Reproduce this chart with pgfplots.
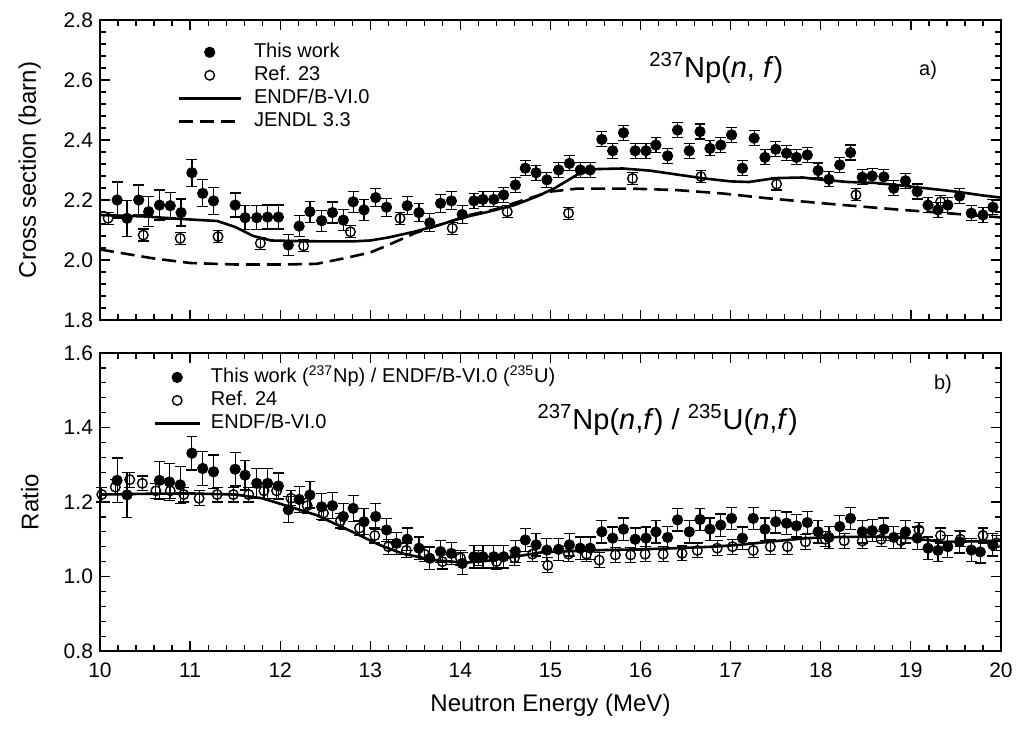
\documentclass[border=0pt]{standalone}
\usepackage{pgfplots}
\pgfplotsset{compat=1.18}
\usepackage{fontspec}
\setmainfont{Liberation Sans}

\pgfplotsset{
  common/.style={
    scale only axis, width=450.5pt,
    xmin=10, xmax=20, xtick={10,...,20}, minor x tick num=4, minor y tick num=4,
    tick align=inside, major tick length=5pt, minor tick length=2.8pt,
    axis line style={line width=0.8pt}, every tick/.style={black, line width=0.6pt},
    tick label style={font=\fontsize{10.5}{12}\selectfont},
    xticklabel style={yshift=-2.5pt},
    /pgf/number format/assume math mode=true,
    yticklabel style={/pgf/number format/fixed, /pgf/number format/fixed zerofill, /pgf/number format/precision=1},
    ylabel style={font=\fontsize{12}{14}\selectfont, at={(axis description cs:-0.078,0.5)}, anchor=center},
    xlabel style={font=\fontsize{12}{14}\selectfont},
    clip=false,
  },
  datamk/.style={only marks, mark=*, mark size=2.6pt, black,
    error bars/.cd, y dir=both, y explicit,
    error bar style={line width=0.6pt, black},
    error mark options={rotate=90, mark size=2.7pt, line width=0.6pt, black}},
  openmk/.style={only marks, mark=o, mark size=2.4pt, black, mark options={line width=0.7pt, fill=white},
    error bars/.cd, y dir=both, y explicit,
    error bar style={line width=0.6pt, black},
    error mark options={rotate=90, mark size=2.7pt, line width=0.6pt, black}},
}

\pgfplotstableread{
E v e
10.19 2.200 0.06
10.30 2.139 0.06
10.43 2.200 0.05
10.54 2.161 0.05
10.66 2.183 0.05
10.78 2.181 0.045
10.90 2.158 0.045
11.02 2.291 0.045
11.14 2.222 0.045
11.26 2.197 0.045
11.50 2.183 0.04
11.61 2.141 0.04
11.74 2.141 0.04
11.86 2.143 0.04
11.98 2.143 0.04
12.09 2.050 0.035
12.21 2.113 0.035
12.33 2.161 0.035
12.46 2.131 0.035
12.58 2.158 0.035
12.70 2.133 0.035
12.81 2.194 0.035
12.93 2.167 0.035
13.06 2.208 0.03
13.18 2.176 0.03
13.41 2.181 0.03
13.54 2.158 0.03
13.66 2.124 0.03
13.78 2.189 0.03
13.90 2.197 0.03
14.02 2.152 0.03
14.15 2.197 0.025
14.25 2.202 0.025
14.37 2.202 0.025
14.48 2.217 0.025
14.61 2.250 0.025
14.72 2.306 0.025
14.84 2.291 0.025
14.96 2.267 0.025
15.09 2.300 0.025
15.21 2.322 0.025
15.33 2.300 0.025
15.44 2.300 0.025
15.57 2.402 0.025
15.69 2.364 0.025
15.81 2.424 0.025
15.94 2.364 0.025
16.06 2.364 0.025
16.17 2.383 0.025
16.30 2.347 0.025
16.41 2.433 0.025
16.54 2.364 0.025
16.66 2.428 0.025
16.77 2.372 0.025
16.89 2.383 0.025
17.01 2.417 0.025
17.13 2.306 0.025
17.26 2.406 0.025
17.38 2.342 0.025
17.50 2.369 0.025
17.62 2.356 0.025
17.73 2.342 0.025
17.85 2.350 0.025
17.97 2.298 0.025
18.09 2.269 0.025
18.21 2.317 0.025
18.33 2.358 0.025
18.46 2.276 0.025
18.57 2.280 0.025
18.70 2.277 0.025
18.81 2.239 0.025
18.94 2.264 0.025
19.07 2.228 0.025
19.19 2.183 0.025
19.30 2.167 0.025
19.41 2.183 0.025
19.54 2.213 0.025
19.67 2.156 0.025
19.80 2.150 0.025
19.91 2.176 0.025
}\topthis

\pgfplotstableread{
E v e
10.09 2.139 0.02
10.48 2.083 0.02
10.89 2.072 0.02
11.31 2.078 0.02
11.78 2.056 0.02
12.26 2.047 0.02
12.78 2.094 0.02
13.33 2.139 0.02
13.91 2.106 0.02
14.52 2.161 0.02
15.20 2.156 0.02
15.91 2.272 0.02
16.67 2.278 0.02
17.51 2.253 0.02
18.39 2.217 0.02
19.33 2.194 0.02
}\topref

\pgfplotstableread{
E v
10.0 2.150
10.5 2.145
11.0 2.135
11.3 2.130
11.5 2.110
11.7 2.080
11.9 2.065
12.2 2.063
12.5 2.062
12.8 2.062
13.0 2.065
13.2 2.075
13.5 2.095
13.8 2.120
14.05 2.143
14.3 2.160
14.6 2.183
14.85 2.212
15.05 2.240
15.3 2.285
15.5 2.303
15.8 2.305
16.1 2.298
16.4 2.285
16.7 2.272
17.0 2.262
17.2 2.260
17.5 2.273
17.8 2.275
18.0 2.268
18.3 2.260
18.6 2.257
18.9 2.248
19.2 2.238
19.5 2.228
19.8 2.215
20.0 2.208
}\topendf

\pgfplotstableread{
E v
10.0 2.035
10.3 2.020
10.6 2.005
11.0 1.990
11.5 1.985
12.0 1.985
12.4 1.987
12.7 2.005
13.0 2.025
13.2 2.050
13.5 2.090
13.8 2.120
14.1 2.150
14.4 2.170
14.7 2.200
15.0 2.228
15.3 2.238
15.9 2.238
16.4 2.233
16.9 2.222
17.4 2.206
17.8 2.195
18.1 2.187
18.5 2.177
18.9 2.167
19.4 2.156
20.0 2.142
}\topjendl

\pgfplotstableread{
E v e
10.19 1.258 0.06
10.30 1.219 0.06
10.66 1.258 0.05
10.77 1.254 0.05
10.89 1.246 0.05
11.02 1.331 0.045
11.14 1.290 0.045
11.26 1.281 0.045
11.50 1.288 0.045
11.61 1.272 0.04
11.74 1.250 0.04
11.86 1.250 0.04
11.98 1.243 0.035
12.09 1.179 0.035
12.21 1.207 0.035
12.33 1.219 0.035
12.46 1.187 0.035
12.58 1.190 0.035
12.70 1.161 0.035
12.81 1.183 0.035
12.93 1.147 0.035
13.06 1.161 0.035
13.18 1.125 0.03
13.29 1.089 0.03
13.41 1.100 0.03
13.54 1.076 0.03
13.66 1.049 0.03
13.78 1.067 0.03
13.90 1.062 0.03
14.02 1.035 0.03
14.15 1.053 0.03
14.25 1.053 0.03
14.37 1.053 0.03
14.48 1.053 0.03
14.61 1.067 0.03
14.72 1.098 0.03
14.84 1.085 0.03
14.96 1.071 0.03
15.09 1.073 0.03
15.21 1.085 0.03
15.33 1.076 0.03
15.44 1.076 0.03
15.57 1.120 0.03
15.69 1.103 0.03
15.81 1.127 0.03
15.94 1.100 0.03
16.06 1.103 0.03
16.17 1.120 0.03
16.30 1.105 0.03
16.41 1.152 0.03
16.54 1.120 0.03
16.66 1.153 0.03
16.77 1.127 0.03
16.89 1.138 0.03
17.01 1.156 0.03
17.13 1.103 0.03
17.25 1.156 0.03
17.38 1.127 0.03
17.50 1.147 0.03
17.62 1.143 0.03
17.73 1.136 0.03
17.85 1.145 0.03
17.97 1.120 0.03
18.09 1.105 0.03
18.21 1.134 0.03
18.33 1.156 0.03
18.46 1.120 0.03
18.57 1.123 0.03
18.70 1.127 0.03
18.81 1.105 0.03
18.94 1.120 0.03
19.07 1.103 0.03
19.19 1.076 0.03
19.30 1.070 0.03
19.41 1.080 0.03
19.54 1.093 0.03
19.67 1.071 0.03
19.77 1.066 0.03
19.91 1.085 0.03
}\botthis

\pgfplotstableread{
E v e
10.02 1.220 0.02
10.17 1.240 0.02
10.33 1.260 0.02
10.47 1.250 0.02
10.62 1.230 0.02
10.78 1.230 0.02
10.93 1.220 0.02
11.10 1.210 0.02
11.30 1.220 0.02
11.48 1.220 0.02
11.65 1.220 0.02
11.82 1.230 0.02
11.96 1.230 0.02
12.12 1.210 0.02
12.30 1.190 0.02
12.48 1.170 0.02
12.67 1.150 0.02
12.88 1.130 0.02
13.05 1.110 0.02
13.20 1.080 0.02
13.40 1.070 0.02
13.60 1.060 0.02
13.80 1.040 0.02
14.00 1.050 0.02
14.20 1.050 0.02
14.40 1.040 0.02
14.60 1.050 0.02
14.80 1.060 0.02
14.97 1.030 0.02
15.20 1.060 0.02
15.40 1.060 0.02
15.54 1.044 0.02
15.72 1.058 0.02
15.89 1.058 0.02
16.05 1.060 0.02
16.25 1.060 0.02
16.46 1.062 0.02
16.63 1.070 0.02
16.85 1.076 0.02
17.02 1.080 0.02
17.25 1.070 0.02
17.44 1.080 0.02
17.63 1.080 0.02
17.83 1.093 0.02
18.05 1.100 0.02
18.26 1.096 0.02
18.46 1.095 0.02
18.67 1.100 0.02
18.89 1.096 0.02
19.09 1.125 0.02
19.33 1.110 0.02
19.55 1.100 0.02
19.80 1.110 0.02
19.95 1.090 0.02
}\botref

\pgfplotstableread{
E v
10.0 1.220
10.5 1.222
11.0 1.223
11.5 1.220
11.8 1.210
12.07 1.190
12.4 1.165
12.8 1.120
13.1 1.085
13.35 1.062
13.7 1.044
14.05 1.037
14.3 1.042
14.6 1.053
14.9 1.065
15.2 1.068
15.6 1.071
16.0 1.073
16.4 1.076
16.8 1.080
17.1 1.085
17.5 1.095
17.85 1.103
18.2 1.106
18.6 1.107
19.0 1.103
19.35 1.093
19.6 1.094
20.0 1.096
}\botendf

\begin{document}
\begin{tikzpicture}
\useasboundingbox (-50pt,-39pt) rectangle (459.5pt,325.5pt);

% ---------- top panel ----------
\begin{axis}[common, at={(0pt,165.5pt)}, anchor=south west, height=150pt,
  ymin=1.8, ymax=2.8, ytick={1.8,2.0,...,2.8}, xticklabels={},
  ylabel={Cross section (barn)},
  legend style={at={(axis description cs:0.0855,0.932)}, anchor=north west,
    draw=none, fill=none, inner sep=0pt, column sep=5pt, row sep=0pt,
    font=\fontsize{10}{12}\selectfont,
    nodes={inner sep=1pt, text height=7.5pt, text depth=2pt}},
  legend cell align=left,
  legend image code/.code={\draw[mark repeat=2, mark phase=2, #1] plot coordinates {(0pt,0pt) (15.5pt,0pt) (31pt,0pt)};},
]
\addplot[datamk] table[x=E, y=v, y error=e] {\topthis};
\addlegendentry{This work}
\addplot[openmk] table[x=E, y=v, y error=e] {\topref};
\addlegendentry{Ref. 23}
\addplot[black, line width=1.3pt, no marks] table[x=E, y=v] {\topendf};
\addlegendentry{ENDF/B-VI.0}
\addplot[black, line width=1.3pt, no marks, dash pattern=on 7pt off 3.5pt] table[x=E, y=v] {\topjendl};
\addlegendentry{JENDL 3.3}
\node[font=\fontsize{14.5}{16}\selectfont] at (rel axis cs:0.684,0.84) {\textsuperscript{237}Np(\textit{n}, \textit{f})};
\node[font=\fontsize{10}{12}\selectfont] at (rel axis cs:0.919,0.833) {a)};
\end{axis}

% ---------- bottom panel ----------
\begin{axis}[common, at={(0pt,0pt)}, anchor=south west, height=149pt,
  ymin=0.8, ymax=1.6, ytick={0.8,1.0,...,1.6},
  ylabel={Ratio}, xlabel={Neutron Energy (MeV)},
  x label style={at={(axis description cs:0.5,-0.181)}, anchor=center},
  legend style={at={(axis description cs:0.0588,0.958)}, anchor=north west,
    draw=none, fill=none, inner sep=0pt, column sep=4pt, row sep=0pt,
    font=\fontsize{10}{12}\selectfont,
    nodes={inner sep=1pt, text height=7.5pt, text depth=2pt}},
  legend cell align=left,
  legend image code/.code={\draw[mark repeat=2, mark phase=2, #1] plot coordinates {(0pt,0pt) (11.25pt,0pt) (22.5pt,0pt)};},
]
\addplot[datamk] table[x=E, y=v, y error=e] {\botthis};
\addlegendentry{This work (\textsuperscript{237}Np) / ENDF/B-VI.0 (\textsuperscript{235}U)}
\addplot[openmk] table[x=E, y=v, y error=e] {\botref};
\addlegendentry{Ref. 24}
\addplot[black, line width=1.3pt, no marks] table[x=E, y=v] {\botendf};
\addlegendentry{ENDF/B-VI.0}
\node[font=\fontsize{14.5}{16}\selectfont] at (rel axis cs:0.630,0.775) {\textsuperscript{237}Np(\textit{n},\textit{f}) / \textsuperscript{235}U(\textit{n},\textit{f})};
\node[font=\fontsize{10}{12}\selectfont] at (rel axis cs:0.9356,0.895) {b)};
\end{axis}
\end{tikzpicture}
\end{document}
